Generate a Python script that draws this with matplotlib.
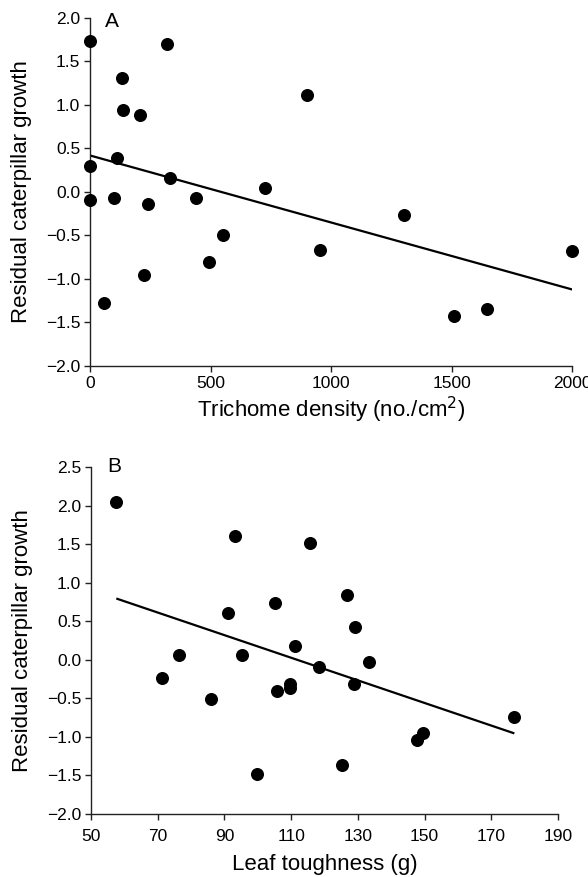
import matplotlib
matplotlib.use("Agg")
import matplotlib.pyplot as plt

plt.rcParams['font.family'] = ['Liberation Sans', 'DejaVu Sans']

# Panel A: trichome density
trichome_x = [0, 320, 132, 136, 206, 113, 0, 333, 727, 0, 98, 242, 438, 899, 1303,
              57, 223, 494, 553, 954, 1512, 1646, 2000]
trichome_y = [1.74, 1.70, 1.31, 0.94, 0.88, 0.39, 0.30, 0.16, 0.05, -0.09, -0.07, -0.14,
              -0.07, 1.12, -0.27, -1.28, -0.95, -0.80, -0.49, -0.67, -1.43, -1.35, -0.68]
fitA_x = [0, 2000]
fitA_y = [0.42, -1.12]

# Panel B: leaf toughness
tough_x = [57.5, 93.2, 91.0, 105.3, 111.2, 76.4, 95.4, 115.8, 126.6, 129.2, 71.2, 85.9,
           99.9, 105.9, 109.6, 109.8, 118.3, 133.2, 128.8, 125.2, 147.8, 149.4, 176.8]
tough_y = [2.05, 1.61, 0.61, 0.73, 0.18, 0.06, 0.06, 1.51, 0.84, 0.43, -0.24, -0.51,
           -1.48, -0.40, -0.32, -0.37, -0.09, -0.03, -0.31, -1.36, -1.04, -0.95, -0.74]
fitB_x = [57.9, 176.6]
fitB_y = [0.79, -0.95]

xticksA = [0, 500, 1000, 1500, 2000]
yticksA = [-2.0, -1.5, -1.0, -0.5, 0.0, 0.5, 1.0, 1.5, 2.0]
xticksB = [50, 70, 90, 110, 130, 150, 170, 190]
yticksB = [-2.0, -1.5, -1.0, -0.5, 0.0, 0.5, 1.0, 1.5, 2.0, 2.5]

fig = plt.figure(figsize=(5.88, 8.77), dpi=100)
axA = fig.add_axes([90/588, 1-366/877, (572-90)/588, (366-18)/877])
axB = fig.add_axes([91/588, 1-814/877, (558-91)/588, (814-467)/877])

def style(ax, xt, yt, xpad):
    for s in ['top', 'right']:
        ax.spines[s].set_visible(False)
    for s in ['left', 'bottom']:
        ax.spines[s].set_color('#222222')
        ax.spines[s].set_linewidth(1.0)
    ax.set_xticks(xt)
    ax.set_yticks(yt)
    ax.set_yticklabels([f"{v:.1f}".replace('-', '\u2212') for v in yt])
    ax.set_xticklabels([str(v) for v in xt])
    ax.tick_params(direction='out', length=4, width=1.0, color='#222222',
                   labelsize=12.5, pad=3)
    ax.tick_params(axis='x', pad=xpad)

axA.scatter(trichome_x, trichome_y, s=70, color='black', zorder=3, clip_on=False)
axA.plot(fitA_x, fitA_y, color='black', lw=1.6)
axA.set_xlim(0, 2000)
axA.set_ylim(-2.0, 2.0)
style(axA, xticksA, yticksA, 3)
axA.set_xlabel('Trichome density (no./cm$^2$)', fontsize=16, labelpad=3)
axA.set_ylabel('Residual caterpillar growth', fontsize=16, labelpad=10)
axA.text(0.045, 0.99, 'A', transform=axA.transAxes, fontsize=15, va='center', ha='center')

axB.scatter(tough_x, tough_y, s=70, color='black', zorder=3, clip_on=False)
axB.plot(fitB_x, fitB_y, color='black', lw=1.6)
axB.set_xlim(50, 190)
axB.set_ylim(-2.0, 2.5)
style(axB, xticksB, yticksB, 7)
axB.set_xlabel('Leaf toughness (g)', fontsize=16, labelpad=7)
axB.set_ylabel('Residual caterpillar growth', fontsize=16, labelpad=10)
axB.text(0.049, 1.0, 'B', transform=axB.transAxes, fontsize=15, va='center', ha='center')

fig.savefig('out.png', dpi=100)
